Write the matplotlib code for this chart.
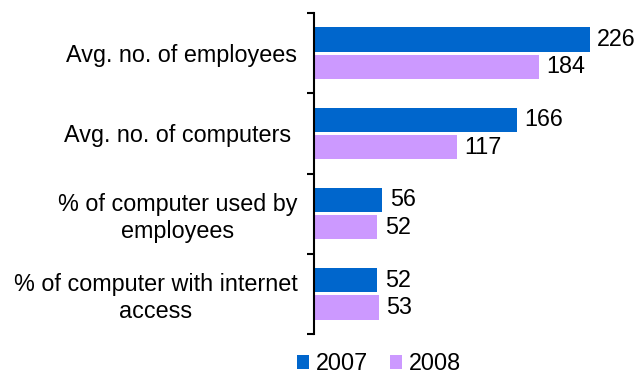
import matplotlib.pyplot as plt
import numpy as np

plt.rcParams['font.family'] = ['Liberation Sans', 'DejaVu Sans']

# data
categories = ['Avg. no. of employees', 'Avg. no. of computers ',
              '% of computer used by\nemployees',
              '% of computer with internet\naccess']
vals_2007 = [226, 166, 56, 52]
vals_2008 = [184, 117, 52, 53]
series = ['2007', '2008']
colors = ['#0066CC', '#CC99FF']

fig = plt.figure(figsize=(6.37, 3.76), dpi=100)
ax = fig.add_axes([314 / 637, 1 - 334 / 376, 310 / 637, 321 / 376])

y = np.arange(len(categories))
h = 0.3
gap = 0.02
b1 = ax.barh(y - h / 2 - gap, vals_2007, height=h, color=colors[0], label=series[0])
b2 = ax.barh(y + h / 2 + gap, vals_2008, height=h, color=colors[1], label=series[1])

for bars in (b1, b2):
    for rect in bars:
        w = rect.get_width()
        ax.text(w + 6, rect.get_y() + rect.get_height() / 2, f'{w:g}',
                va='center', ha='left', fontsize=16.8)

ax.set_xlim(0, 254)
ax.set_ylim(len(categories) - 0.5, -0.5)

ax.set_yticks(y)
ax.set_yticklabels(categories, fontsize=16.8, multialignment='center')
ax.tick_params(axis='y', which='major', length=0, pad=12)
ax.set_yticks(np.arange(-0.5, len(categories)), minor=True)
ax.tick_params(axis='y', which='minor', length=5, width=1.5, direction='out')

ax.set_xticks([])
for s in ['top', 'right', 'bottom']:
    ax.spines[s].set_visible(False)
ax.spines['left'].set_linewidth(1.5)

fig.legend(handles=[b1, b2], labels=series, loc='center', ncol=2,
           bbox_to_anchor=(379 / 637, 1 - 364 / 376), frameon=False,
           fontsize=16.8, handlelength=0.55, handleheight=0.55,
           handletextpad=0.3, columnspacing=0.9)

fig.savefig('out.png', dpi=100)
